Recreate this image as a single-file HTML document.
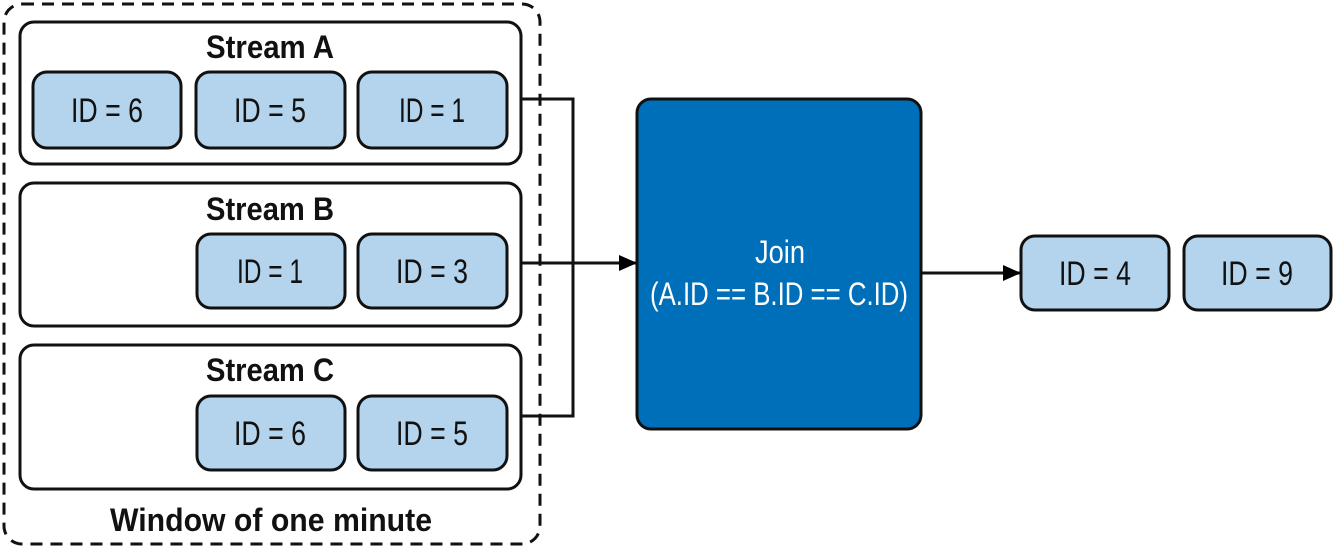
<html><head><style>body{margin:0;background:#fff}svg{display:block}</style></head><body>
<svg width="1334" height="547" viewBox="0 0 1334 547" font-family="Liberation Sans, sans-serif">
<defs><marker id="a" markerWidth="18" markerHeight="18" refX="17" refY="9" orient="auto" markerUnits="userSpaceOnUse"><path d="M0,1 L18,9 L0,17z" fill="#000"/></marker></defs>
<rect x="4" y="4" width="536" height="540" rx="18" fill="none" stroke="#111" stroke-width="3" stroke-dasharray="12,8"/>
<g fill="#fff" stroke="#111" stroke-width="3">
<rect x="20" y="22" width="501" height="142" rx="14"/>
<rect x="20" y="183" width="501" height="143" rx="14"/>
<rect x="20" y="345" width="501" height="144" rx="14"/>
</g>
<g fill="#b3d4ec" stroke="#111" stroke-width="3">
<rect x="33" y="72" width="148" height="76" rx="14"/>
<rect x="196" y="72" width="149" height="76" rx="14"/>
<rect x="358" y="72" width="149" height="76" rx="14"/>
<rect x="197" y="234" width="148" height="74" rx="14"/>
<rect x="358" y="234" width="149" height="74" rx="14"/>
<rect x="197" y="396" width="148" height="74" rx="14"/>
<rect x="358" y="396" width="149" height="74" rx="14"/>
<rect x="1021" y="236" width="148" height="74" rx="14"/>
<rect x="1184" y="236" width="147" height="74" rx="14"/>
</g>
<g fill="none" stroke="#111" stroke-width="3">
<path d="M521,99 H573 V416 H521"/>
<path d="M521,263 H636" marker-end="url(#a)"/>
<path d="M921,273 H1020" marker-end="url(#a)"/>
</g>
<rect x="637" y="99" width="284" height="330" rx="14" fill="#006fba" stroke="#111" stroke-width="3"/>
<g font-size="32" font-weight="bold" fill="#111" text-anchor="middle">
<text x="270" y="58" textLength="128" lengthAdjust="spacingAndGlyphs">Stream A</text>
<text x="270" y="220" textLength="128" lengthAdjust="spacingAndGlyphs">Stream B</text>
<text x="270" y="381" textLength="128" lengthAdjust="spacingAndGlyphs">Stream C</text>
<text x="271" y="531" textLength="322" lengthAdjust="spacingAndGlyphs">Window of one minute</text>
</g>
<g font-size="34" fill="#111" text-anchor="middle">
<text x="107" y="122" textLength="72" lengthAdjust="spacingAndGlyphs">ID = 6</text>
<text x="270" y="122" textLength="72" lengthAdjust="spacingAndGlyphs">ID = 5</text>
<text x="432" y="122" textLength="66" lengthAdjust="spacingAndGlyphs">ID = 1</text>
<text x="270" y="283" textLength="66" lengthAdjust="spacingAndGlyphs">ID = 1</text>
<text x="432" y="283" textLength="72" lengthAdjust="spacingAndGlyphs">ID = 3</text>
<text x="270" y="445" textLength="72" lengthAdjust="spacingAndGlyphs">ID = 6</text>
<text x="432" y="445" textLength="72" lengthAdjust="spacingAndGlyphs">ID = 5</text>
<text x="1095" y="285" textLength="72" lengthAdjust="spacingAndGlyphs">ID = 4</text>
<text x="1257" y="285" textLength="72" lengthAdjust="spacingAndGlyphs">ID = 9</text>
</g>
<g font-size="32" fill="#fff" text-anchor="middle">
<text x="780" y="263" textLength="50" lengthAdjust="spacingAndGlyphs">Join</text>
<text x="779" y="305" textLength="258" lengthAdjust="spacingAndGlyphs">(A.ID == B.ID == C.ID)</text>
</g>
</svg>
</body></html>
